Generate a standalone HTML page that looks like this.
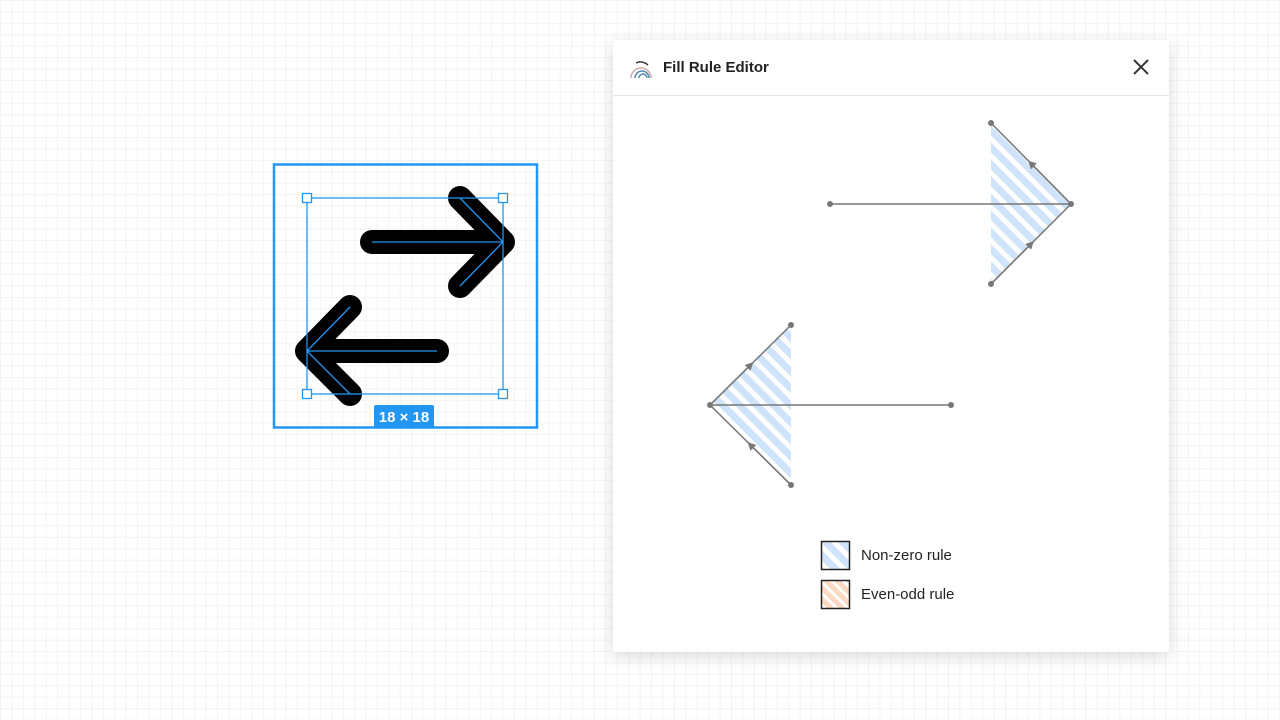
<!DOCTYPE html>
<html><head><meta charset="utf-8"><style>
body{margin:0;width:1280px;height:720px;overflow:hidden;background:#fff;font-family:"Liberation Sans",sans-serif;
background-image:linear-gradient(#f3f3f3 1px,transparent 1px),linear-gradient(90deg,#f3f3f3 1px,transparent 1px);background-size:11.43px 11.43px;}
</style></head><body>
<svg width="1280" height="720" style="position:absolute;left:0;top:0">
<defs>
<pattern id="hb" width="12" height="12" patternUnits="userSpaceOnUse" patternTransform="rotate(45)">
<rect width="12" height="12" fill="#fff"/><rect width="12" height="7" fill="#cfe3fb"/></pattern>
<pattern id="ho" width="8" height="8" patternUnits="userSpaceOnUse" patternTransform="rotate(45)">
<rect width="8" height="8" fill="#fff"/><rect width="8" height="5" fill="#fbd9c3"/></pattern>
<marker id="ar" viewBox="0 0 10 10" refX="5" refY="5" markerWidth="5.5" markerHeight="5.5" orient="auto"><path d="M0,0L10,5L0,10z" fill="#777"/></marker>
<filter id="sh" x="-10%" y="-10%" width="120%" height="120%"><feDropShadow dx="0" dy="4" stdDeviation="8" flood-opacity="0.15"/></filter>
</defs>
<rect x="274" y="164.5" width="263" height="263" fill="none" stroke="#2196f3" stroke-width="2.5"/>
<g stroke="#000" stroke-width="24" stroke-linecap="round" stroke-linejoin="round" fill="none">
<path d="M372,242H503M460,198L503,242L460,286"/>
<path d="M437,351H307M350,307L307,351L350,394"/>
</g>
<g stroke="#2196f3" stroke-width="1.3" fill="none">
<rect x="307" y="198" width="196" height="196"/>
<path d="M372,242H503M460,198L503,242L460,286M437,351H307M350,307L307,351L350,394"/>
</g>
<g fill="#fff" stroke="#2196f3" stroke-width="1.3">
<rect x="302.5" y="193.5" width="9" height="9"/><rect x="498.5" y="193.5" width="9" height="9"/>
<rect x="302.5" y="389.5" width="9" height="9"/><rect x="498.5" y="389.5" width="9" height="9"/>
</g>
<rect x="374" y="405" width="60" height="23" rx="2" fill="#2196f3"/>
<text x="404" y="422" font-size="15" fill="#fff" text-anchor="middle" font-weight="bold">18 × 18</text>
<rect x="613" y="40" width="556" height="612" fill="#fff" filter="url(#sh)"/>
<line x1="613" y1="95.5" x2="1169" y2="95.5" stroke="#e4e4e4"/>
<g fill="none" stroke-width="1.5"><path d="M631,78a10,10 0 0 1 20,0" stroke="#caa"/><path d="M635,78a7,7 0 0 1 14,0M639,78a4,4 0 0 1 8,0" stroke="#58a"/><path d="M636,63q6,-3 12,2" stroke="#333"/></g>
<text x="663" y="72" font-size="15" font-weight="bold" fill="#222">Fill Rule Editor</text>
<path d="M1134,60L1148,74M1148,60L1134,74" stroke="#333" stroke-width="2"/>
<path d="M991,123L1071,204L991,284Z" fill="url(#hb)"/>
<path d="M791,325L710,405L791,485Z" fill="url(#hb)"/>
<g stroke="#777" stroke-width="1.5" fill="none">
<line x1="830" y1="204" x2="1071" y2="204"/>
<line x1="710" y1="405" x2="951" y2="405"/>
<path d="M791,325L710,405L791,485"/>
<path d="M991,123L1071,204L991,284"/>
<path d="M1071,204L1031,163.5" marker-end="url(#ar)"/>
<path d="M991,284L1031,244" marker-end="url(#ar)"/>
<path d="M710,405L750.5,365" marker-end="url(#ar)"/>
<path d="M791,485L750.5,445" marker-end="url(#ar)"/>
</g>
<g fill="#777"><circle cx="830" cy="204" r="3"/><circle cx="991" cy="123" r="3"/><circle cx="1071" cy="204" r="3"/><circle cx="991" cy="284" r="3"/>
<circle cx="791" cy="325" r="3"/><circle cx="710" cy="405" r="3"/><circle cx="791" cy="485" r="3"/><circle cx="951" cy="405" r="3"/></g>
<rect x="821.5" y="541.5" width="28" height="28" fill="url(#hb)" stroke="#222" stroke-width="1.5"/>
<rect x="821.5" y="580.5" width="28" height="28" fill="url(#ho)" stroke="#222" stroke-width="1.5"/>
<text x="861" y="560" font-size="15" fill="#222">Non-zero rule</text>
<text x="861" y="599" font-size="15" fill="#222">Even-odd rule</text>
</svg>
</body></html>
